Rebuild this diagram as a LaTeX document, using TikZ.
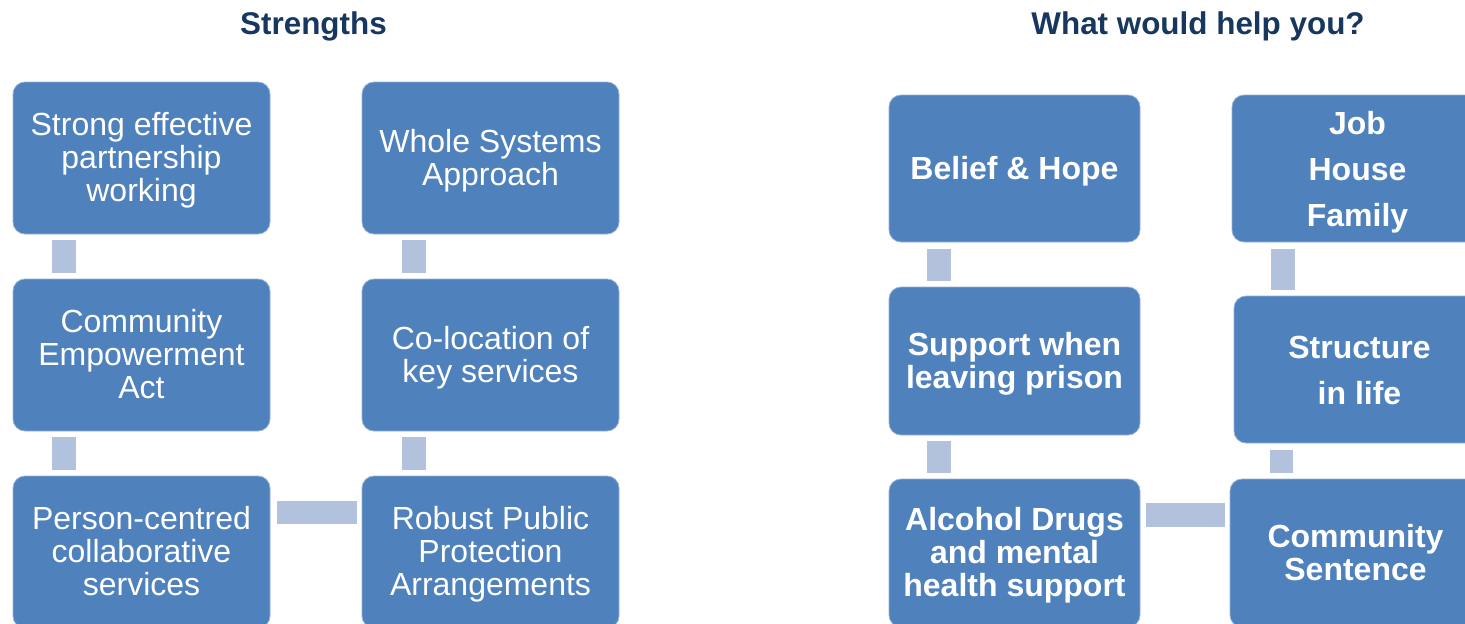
\documentclass[tikz,border=0pt]{standalone}
\usepackage{fontspec}
\setmainfont{Liberation Sans}
\definecolor{boxblue}{HTML}{4F81BD}
\definecolor{connblue}{HTML}{B3C2DC}
\definecolor{titleblue}{HTML}{17375E}
\newcommand\boxtxt[2][4pt]{\raisebox{-#1}[\height][\depth]{\begin{tabular}{@{}c@{}}#2\end{tabular}}}
\begin{document}
\begin{tikzpicture}[x=1pt,y=-1pt,
  box/.style={rectangle, rounded corners=12pt, fill=boxblue, draw=boxblue!60!white, line width=0.8pt,
    inner sep=0pt, text=white, font=\fontsize{32}{33}\selectfont},
  boxL/.style={box, minimum width=257pt, minimum height=152pt},
  boxR/.style={box, minimum width=251pt, minimum height=147pt, font=\bfseries\fontsize{32}{33}\selectfont},
  conn/.style={draw=connblue, line width=24pt},
  title/.style={font=\bfseries\fontsize{31.4}{33}\selectfont, text=titleblue, anchor=base, inner sep=0pt}]
\useasboundingbox (0,0) rectangle (1465,624);
\clip (0,0) rectangle (1465,624);
% titles
\node[title] (t1) at (313.5,34) {Strengths};
\node[title] (t2) at (1198,34) {What would help you?};
% left panel
\node[boxL] (A1) at (141.5,158) {\boxtxt{Strong effective\\partnership\\working}};
\node[boxL] (A2) at (141.5,355) {\boxtxt{Community\\Empowerment\\Act}};
\node[boxL] (A3) at (141.5,552) {\boxtxt{Person-centred\\collaborative\\services}};
\node[boxL] (B1) at (490.5,158) {\boxtxt{Whole Systems\\Approach}};
\node[boxL] (B2) at (490.5,355) {\boxtxt{Co-location of\\key services}};
\node[boxL] (B3) at (490.5,552) {\boxtxt{Robust Public\\Protection\\Arrangements}};
\draw[conn, shorten <=6pt, shorten >=6pt] ([xshift=51pt]A1.south west) -- ([xshift=51pt]A2.north west);
\draw[conn, shorten <=6pt, shorten >=6pt] ([xshift=51pt]A2.south west) -- ([xshift=51pt]A3.north west);
\draw[conn, shorten <=6pt, shorten >=6pt] ([xshift=52pt]B1.south west) -- ([xshift=52pt]B2.north west);
\draw[conn, shorten <=6pt, shorten >=6pt] ([xshift=52pt]B2.south west) -- ([xshift=52pt]B3.north west);
\draw[conn, line width=23pt, shorten <=7pt, shorten >=5pt] ([yshift=-36.5pt]A3.north east) -- ([yshift=-36.5pt]B3.north west);
% right panel
\node[boxR] (C1) at (1014.5,168.5) {\boxtxt{Belief \& Hope}};
\node[boxR, minimum height=148pt] (C2) at (1014.5,361) {\boxtxt{Support when\\leaving prison}};
\node[boxR, minimum height=148pt] (C3) at (1014.5,553) {\boxtxt{Alcohol Drugs\\and mental\\health support}};
\node[boxR, font=\bfseries\fontsize{32}{46}\selectfont] (D1) at (1357.5,168.5) {\boxtxt[2.5pt]{Job\\House\\Family}};
\node[boxR, font=\bfseries\fontsize{32}{46}\selectfont] (D2) at (1359.5,369.5) {\boxtxt[2.5pt]{Structure\\in life}};
\node[boxR, minimum height=148pt] (D3) at (1355.5,553) {\boxtxt{Community\\Sentence}};
\draw[conn, shorten <=7pt, shorten >=6pt] ([xshift=50pt]C1.south west) -- ([xshift=50pt]C2.north west);
\draw[conn, shorten <=6pt, shorten >=6pt] ([xshift=50pt]C2.south west) -- ([xshift=50pt]C3.north west);
\draw[conn, shorten <=7pt, shorten >=6pt] ([xshift=51pt]D1.south west) -- ([xshift=51pt]D1.south west |- D2.north);
\draw[conn, line width=23pt, shorten <=7pt, shorten >=6pt] ([xshift=48pt]D2.south west) -- ([xshift=48pt]D2.south west |- D3.north);
\draw[conn, shorten <=6pt, shorten >=5pt] ([yshift=-36pt]C3.north east) -- ([yshift=-36pt]D3.north west);
\end{tikzpicture}
\end{document}
